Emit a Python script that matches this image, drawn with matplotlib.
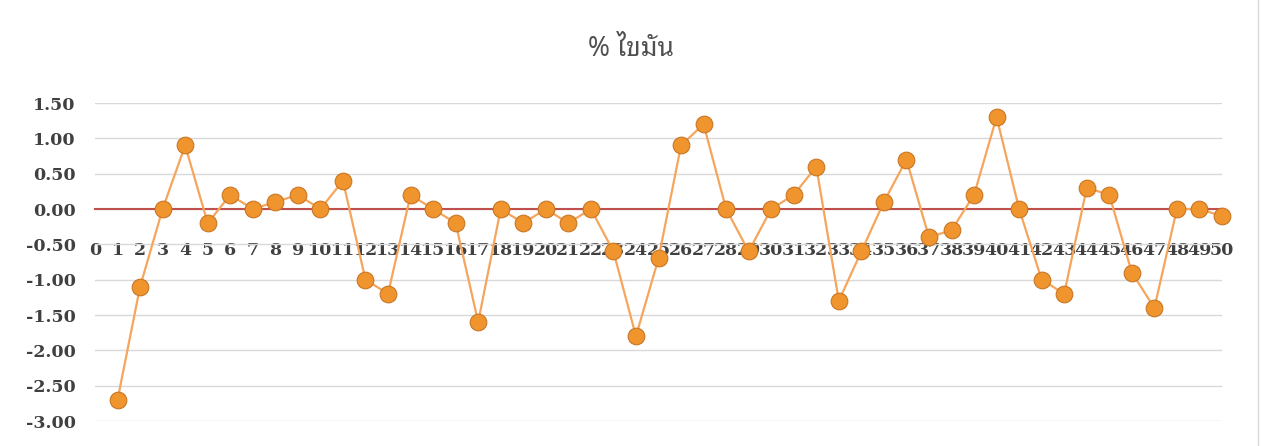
import matplotlib
matplotlib.use('Agg')
import matplotlib.pyplot as plt
from matplotlib.lines import Line2D

# categories 0..50 on the axis, data starts at 1
categories = list(range(0, 51))
samples = list(range(1, 51))
fat_diff = [-2.70, -1.10, 0.00, 0.90, -0.20, 0.20, 0.00, 0.10, 0.20, 0.00,
            0.40, -1.00, -1.20, 0.20, 0.00, -0.20, -1.60, 0.00, -0.20, 0.00,
            -0.20, 0.00, -0.60, -1.80, -0.70, 0.90, 1.20, 0.00, -0.60, 0.00,
            0.20, 0.60, -1.30, -0.60, 0.10, 0.70, -0.40, -0.30, 0.20, 1.30,
            0.00, -1.00, -1.20, 0.30, 0.20, -0.90, -1.40, 0.00, 0.00, -0.10]
y_ticks = [1.5, 1.0, 0.5, 0.0, -0.5, -1.0, -1.5, -2.0, -2.5, -3.0]

plt.rcParams['axes.unicode_minus'] = False

fig = plt.figure(figsize=(12.61, 4.46), dpi=100)
ax = fig.add_axes([95 / 1261, 25 / 446, (1222 - 95) / 1261, (421 - 103) / 446])

ax.set_xlim(0, 50)
ax.set_ylim(-3.0, 1.5)
ax.set_yticks(y_ticks)
ax.set_yticklabels(['%.2f' % v for v in y_ticks])
ax.set_xticks(categories)
ax.set_xticklabels([str(c) for c in categories])

ax.grid(axis='y', color='#d9d9d9', linewidth=1)
ax.set_axisbelow(True)
for side in ['left', 'right', 'top']:
    ax.spines[side].set_visible(False)
ax.spines['bottom'].set_position(('data', 0))
ax.spines['bottom'].set_color('#c0504d')
ax.spines['bottom'].set_linewidth(1.5)
ax.spines['bottom'].set_zorder(2)

ax.tick_params(axis='both', length=0, colors='#404040')
ax.tick_params(axis='x', pad=24)
ax.tick_params(axis='y', pad=14)
for lab in ax.get_xticklabels() + ax.get_yticklabels():
    lab.set_fontfamily('DejaVu Serif')
    lab.set_fontweight('bold')
    lab.set_fontsize(12.5)

ax.plot(samples, fat_diff, color='#f5a55c', linewidth=1.6,
        marker='o', markersize=12, markerfacecolor='#f0942e',
        markeredgecolor='#c97624', markeredgewidth=0.8, zorder=3, clip_on=False)

fig.text(0.5, 0.89, '% ไขมัน', ha='center', va='center', fontsize=19, color='#505050',
         family=['Noto Sans Thai Looped', 'Sarabun', 'Noto Sans Thai', 'DejaVu Sans'])

# thin chart border on the right
fig.add_artist(Line2D([1258 / 1261, 1258 / 1261], [0, 1], color='#d9d9d9', linewidth=1))

fig.savefig('out.png', dpi=100)
